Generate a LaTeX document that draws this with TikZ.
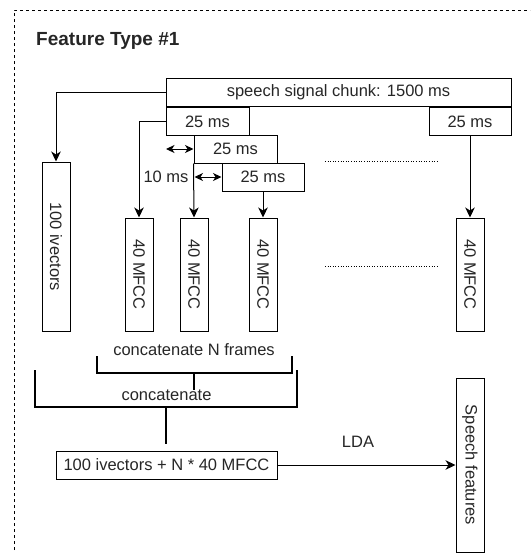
\documentclass[tikz,border=0pt]{standalone}
\usepackage{fontspec}
\setmainfont{Liberation Sans}
\usetikzlibrary{arrows.meta}
\begin{document}
\begin{tikzpicture}[x=1pt,y=-1pt,
  every node/.style={font=\fontsize{16.5}{19}\selectfont, text=black!85},
  box/.style={draw, line width=1pt, inner sep=0pt},
  hbox/.style={box, minimum height=28pt},
  vbox/.style={box, minimum width=28pt},
  arr/.style={line width=1pt, -{Stealth[length=10pt,width=9.5pt,inset=3pt]}},
  darr/.style={line width=1pt, {Stealth[length=8.5pt,width=8pt,inset=2.5pt]}-{Stealth[length=8.5pt,width=8pt,inset=2.5pt]}},
  brace/.style={line width=2pt},
  dots/.style={line width=0.9pt, dash pattern=on 1pt off 1.6pt},
  lbl/.style={inner sep=0pt}]
\useasboundingbox (0,0) rectangle (530,554);
% frame
\draw[line width=0.9pt, dash pattern=on 3pt off 3pt] (14,550) -- (14,10) -- (530,10);
\node[lbl, anchor=base west, font=\fontsize{19}{22}\selectfont\bfseries] (title) at (36,45) {Feature Type \#1};
% top boxes
\node[hbox, minimum width=345pt] (chunk) at (338.5,92.5) {speech signal chunk: 1500 ms};
\node[hbox, minimum width=83pt] (f1) at (207.5,121.5) {25 ms};
\node[hbox, minimum width=82pt] (fr) at (470,121.5) {25 ms};
\node[hbox, minimum width=83pt] (f2) at (235.5,149) {25 ms};
\node[hbox, minimum width=82pt] (f3) at (263,177) {25 ms};
% vertical boxes
\node[vbox, minimum height=169pt] (iv) at (56,246.5) {\rotatebox{-90}{100 ivectors}};
\node[vbox, minimum height=113pt] (m1) at (139,274.5) {\rotatebox{-90}{40 MFCC}};
\node[vbox, minimum height=113pt] (m2) at (194,274.5) {\rotatebox{-90}{40 MFCC}};
\node[vbox, minimum height=113pt] (m3) at (263,274.5) {\rotatebox{-90}{40 MFCC}};
\node[vbox, minimum height=113pt] (mr) at (470,274.5) {\rotatebox{-90}{40 MFCC}};
% arrows
\draw[arr] (chunk.west) -| (iv.north);
\draw[arr] (f1.west) -| (m1.north);
\draw[arr] (f2.south west) -- (m2.north);
\draw[arr] (f3.south) -- (m3.north);
\draw[arr] (fr.south) -- (mr.north);
% offsets
\coordinate (d1) at (166,149);
\coordinate (d2) at (194.5,177);
\draw[darr] (d1) -- (f2.west);
\draw[darr] (d2) -- (f3.west);
\node[lbl] (tenms) at (166,177) {10 ms};
% dotted
\coordinate (p1) at (325,161);
\coordinate (p2) at (437,161);
\coordinate (p3) at (325,266);
\coordinate (p4) at (437,266);
\draw[dots] (p1) -- (p2);
\draw[dots] (p3) -- (p4);
% brackets
\node[lbl] (cn) at (194,350) {concatenate N frames};
\draw[brace] (97,356) -- (97,373) -- (292,373) -- (292,356);
\draw[brace] (194,373) -- (194,390);
\node[lbl] (cc) at (166.5,395) {concatenate};
\draw[brace] (35,370) -- (35,407) -- (297,407) -- (297,370);
\draw[brace] (166,407) -- (166,444);
% bottom
\node[hbox, minimum width=221pt] (comb) at (166.5,465) {100 ivectors + N * 40 MFCC};
\node[vbox, minimum height=174pt] (sf) at (470,465) {\rotatebox{-90}{Speech features}};
\draw[arr] (comb.east) -- (sf.west);
\node[lbl] (lda) at (358,442) {LDA};
\end{tikzpicture}
\end{document}
